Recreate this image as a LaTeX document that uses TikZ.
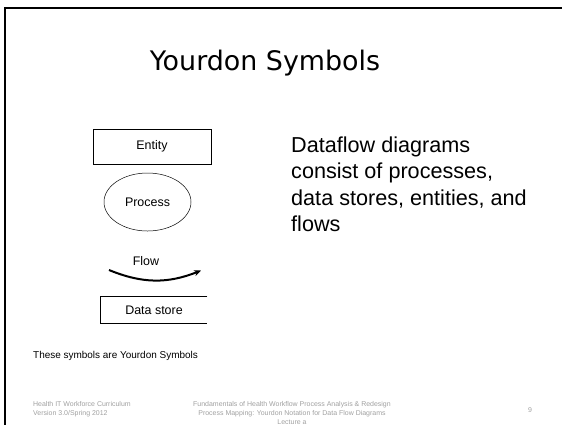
\documentclass[tikz,border=0pt]{standalone}
\usepackage{fontspec}
\setmainfont{Liberation Sans}
\newfontfamily\titlefont{DejaVu Sans}
\usetikzlibrary{arrows.meta}
\usetikzlibrary{positioning, shapes.geometric}
\definecolor{footgray}{RGB}{160,160,160}

\begin{document}
\begin{tikzpicture}[x=1bp, y=-1bp,
		symbox/.style = {draw, line width=0.5pt, inner sep=0pt, font=\fontsize{12.5}{14}\selectfont},
		foot/.style = {text=footgray, font=\fontsize{7}{9}\selectfont, inner sep=0pt}]
			\useasboundingbox (0,0) rectangle (562,424);
			\clip (0,0) rectangle (562,424);
			% slide frame
			\draw[line width=2.6bp] (5,440) -- (5,8) -- (580,8);
			
			\node[font=\titlefont\fontsize{27}{30}\selectfont] (title) at (265,63) {Yourdon Symbols};
			
			\begin{scope}[every node/.style={symbox}]
				\node[minimum width=118bp, minimum height=35bp] (entity) at (152,146.5) {Entity};
				\node[ellipse, minimum width=87bp, minimum height=58bp] (process) at (147.5,202) {Process};
				\node[draw=none, anchor=center] (flowlbl) at (146,261) {Flow};
				\node[draw=none, minimum width=106bp, minimum height=26bp] (store) at (154,310) {Data store};
			\end{scope}
			
			\coordinate (flowa) at (109,270);
			\coordinate (flowb) at (201,270.5);
			\draw[line width=2bp, -{Stealth[length=7bp, width=6bp]}] (flowa) to[bend right=22] (flowb);
			\draw[line width=0.8bp] (store.north east) -- (store.north west) -- (store.south west) -- (store.south east);
			
			\node[anchor=north west, align=left, inner sep=0pt, font=\fontsize{21.7}{26.2}\selectfont] (desc) at (291,137)
				{Dataflow diagrams\\consist of processes,\\data stores, entities, and\\flows};
			
			\node[anchor=west, inner sep=0pt, font=\fontsize{10}{12}\selectfont] (note) at (33,356) {These symbols are Yourdon Symbols};
			
			\node[foot, anchor=north west, align=left] (curric) at (33,401)
				{Health IT Workforce Curriculum\\Version 3.0/Spring 2012};
			\node[foot, anchor=north, align=center] (course) at (292,401)
				{Fundamentals of Health Workflow Process Analysis \& Redesign\\Process Mapping: Yourdon Notation for Data Flow Diagrams\\Lecture a};
			\node[foot] (page) at (530,410) {9};
		\end{tikzpicture}
\end{document}
